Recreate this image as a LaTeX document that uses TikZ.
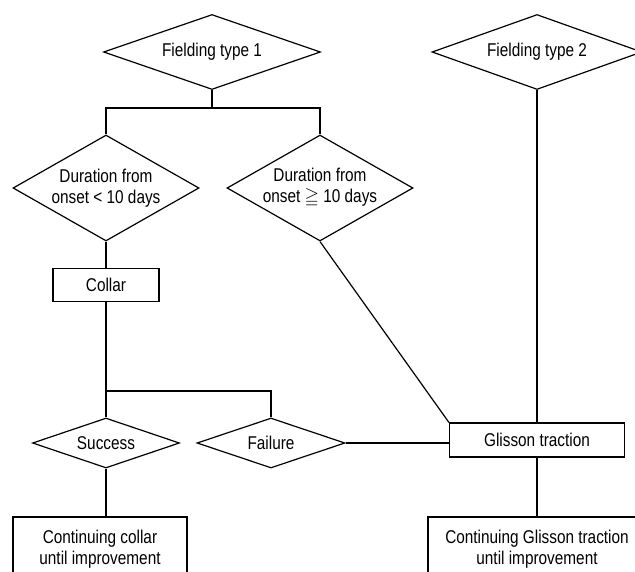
\documentclass[tikz,border=0pt]{standalone}
\usepackage{amssymb}
\usepackage{fontspec}
\setmainfont{Liberation Sans}[FakeStretch=0.83]
\usetikzlibrary{shapes.geometric}

\begin{document}
\begin{tikzpicture}[x=1pt,y=-1pt,line width=1.2pt,
    font=\fontsize{18.5}{21}\selectfont,
    decision/.style={draw,diamond,inner sep=0pt,align=center},
    box/.style={draw,rectangle,inner sep=0pt,align=center}]
\useasboundingbox (0,0) rectangle (635,571);
\clip (0,0) rectangle (635,571);
\node[decision,aspect=2.9,minimum width=217,minimum height=75] (f1) at (212,52) {Fielding type 1};
\node[decision,aspect=2.8,minimum width=210,minimum height=75] (f2) at (537,52) {Fielding type 2};
\node[decision,aspect=1.75,minimum width=186,minimum height=106] (d1) at (106,188) {Duration from\\onset < 10 days};
\node[decision,aspect=1.75,minimum width=186,minimum height=106] (d2) at (320,188) {Duration from\\onset $\geqq$ 10 days};
\node[box,minimum width=106,minimum height=33] (collar) at (106,285) {Collar};
\node[decision,aspect=2.94,minimum width=147,minimum height=50] (success) at (106,443) {Success};
\node[decision,aspect=2.94,minimum width=148,minimum height=50] (failure) at (271,443) {Failure};
\node[box,minimum width=175,minimum height=34] (glisson) at (537,440) {Glisson traction};
\node[box,minimum width=174,minimum height=64] (contcollar) at (100,549) {Continuing collar\\until improvement};
\node[box,minimum width=218,minimum height=64] (contglisson) at (537,549) {Continuing Glisson traction\\until improvement};
\coordinate (split1) at (212,108);
\coordinate (split2) at (106,391);
\draw (f1.south) -- (split1);
\draw (d1.north) |- (split1) -| (d2.north);
\draw (d1.south) -- (collar.north);
\draw (collar.south) -- (split2);
\draw (success.north) |- (split2) -| (failure.north);
\draw (success.south) -- (success.south |- contcollar.north);
\draw (failure.east) -- (failure.east -| glisson.west);
\draw (f2.south) -- (glisson.north);
\draw (d2.south) -- (glisson.north west);
\draw (glisson.south) -- (contglisson.north);
\end{tikzpicture}
\end{document}
